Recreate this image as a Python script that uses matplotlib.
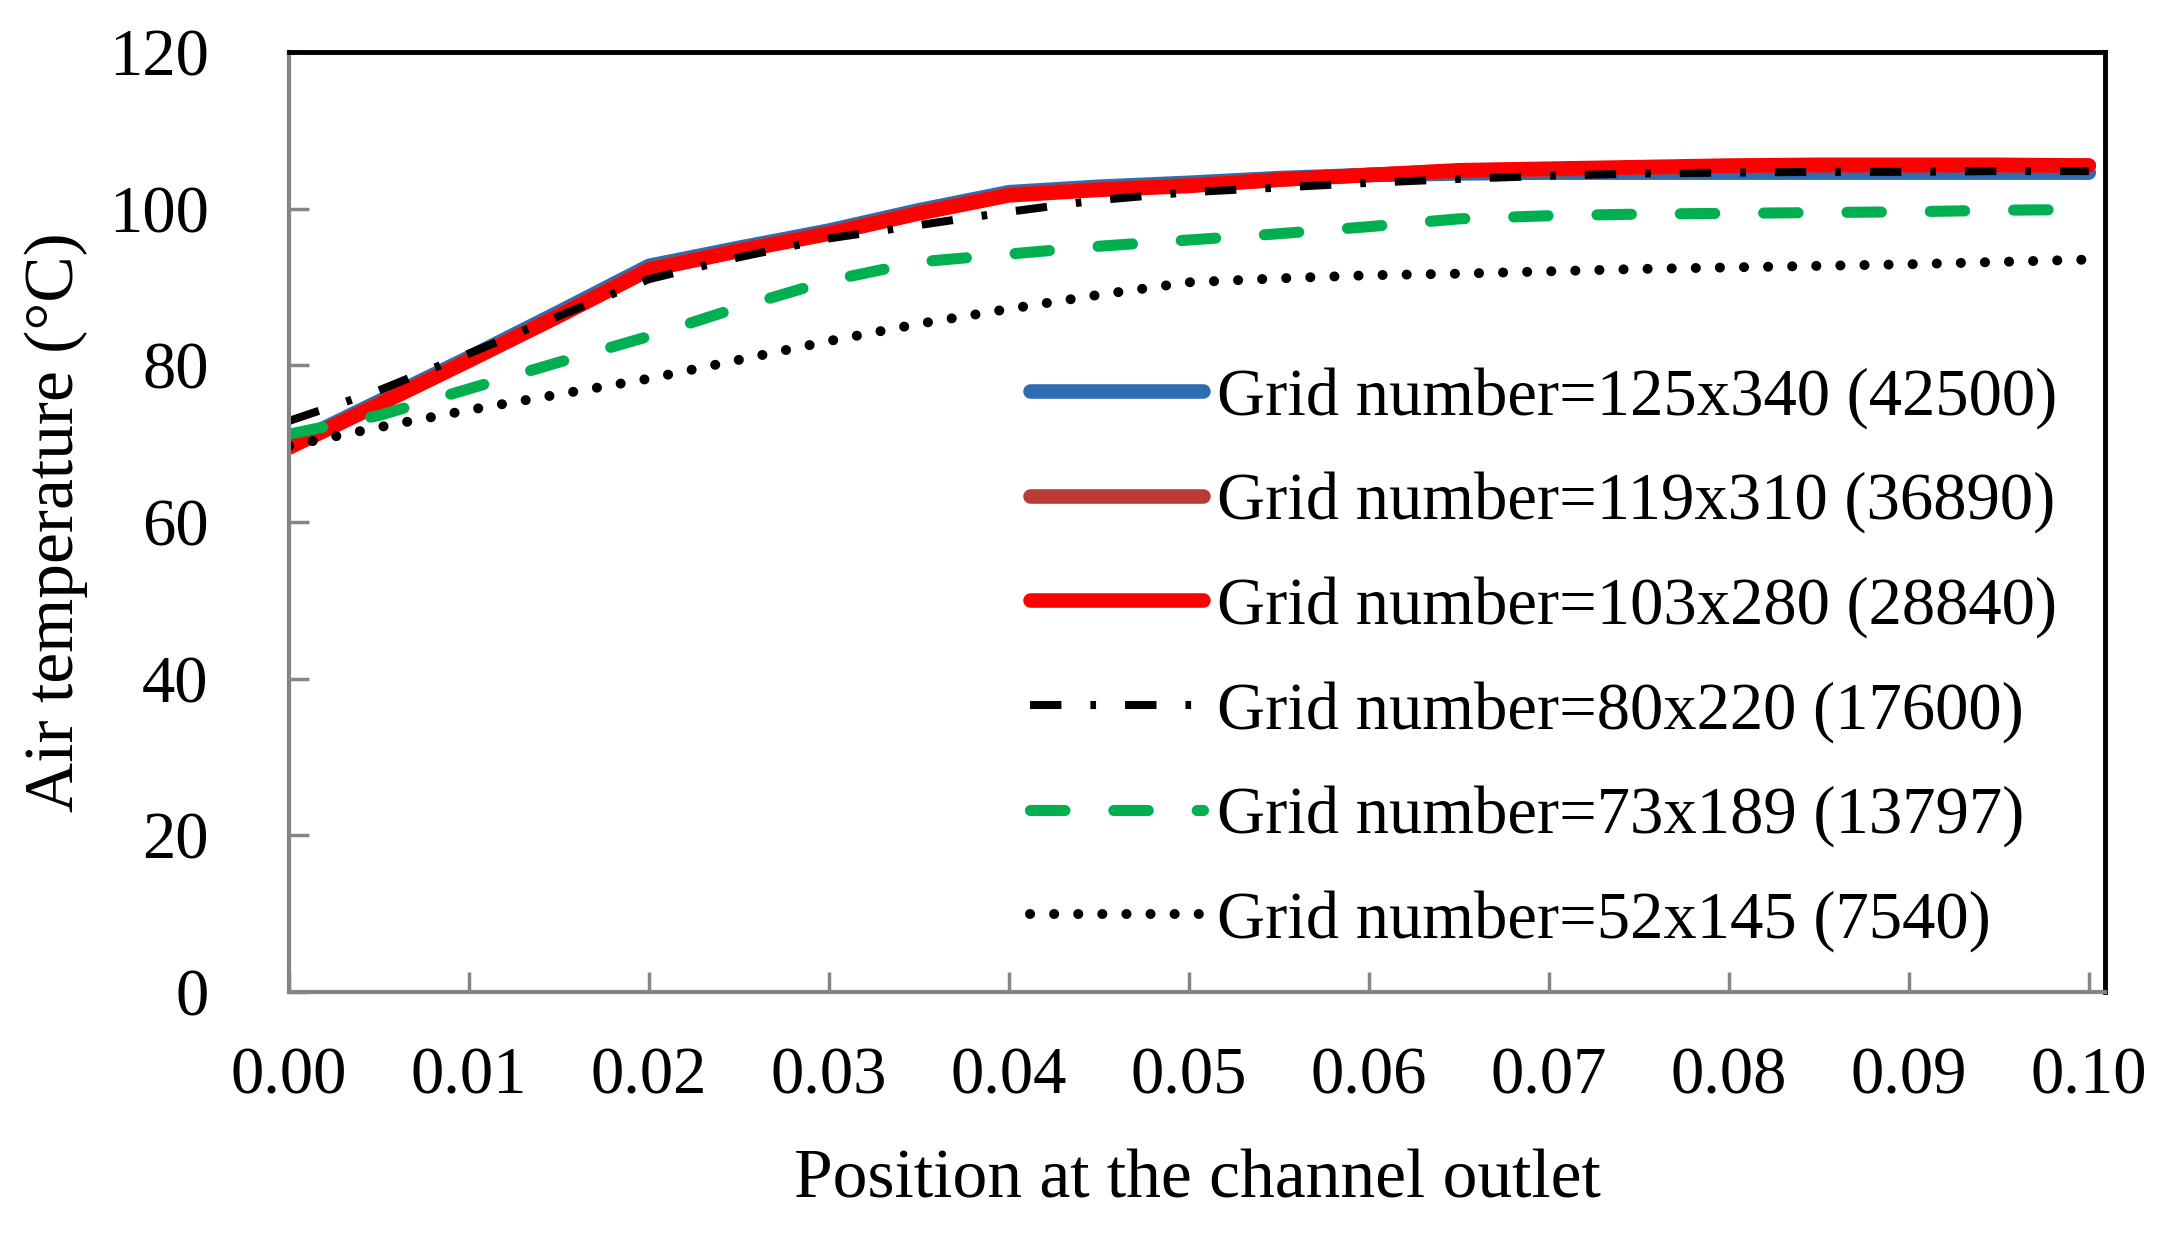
import matplotlib
matplotlib.use("Agg")
import matplotlib.pyplot as plt

plt.rcParams['font.family'] = ['Liberation Serif', 'DejaVu Serif']

# ---- data ----
position = [0.000, 0.005, 0.010, 0.015, 0.020, 0.025, 0.030, 0.035, 0.040, 0.045,
            0.050, 0.055, 0.060, 0.065, 0.070, 0.075, 0.080, 0.085, 0.090, 0.095, 0.100]

grid_125x340 = [69.8, 75.4, 81.0, 86.8, 92.7, 95.0, 97.2, 99.8, 102.1, 102.8,
                103.3, 103.9, 104.3, 104.5, 104.6, 104.6, 104.6, 104.6, 104.6, 104.6, 104.6]
grid_119x310 = [69.6, 75.1, 80.7, 86.4, 92.3, 94.7, 96.9, 99.5, 101.8, 102.5,
                103.0, 103.7, 104.3, 104.8, 105.0, 105.2, 105.4, 105.5, 105.5, 105.5, 105.5]
grid_103x280 = [69.5, 75.0, 80.6, 86.3, 92.2, 94.6, 96.8, 99.4, 101.7, 102.4,
                102.9, 103.7, 104.3, 104.9, 105.1, 105.3, 105.5, 105.6, 105.6, 105.6, 105.5]
grid_80x220 = [72.9, 76.8, 81.5, 86.3, 91.0, 93.8, 96.2, 97.9, 99.6, 101.1,
               102.1, 102.7, 103.3, 103.8, 104.2, 104.5, 104.6, 104.7, 104.7, 104.8, 104.8]
grid_73x189 = [71.2, 73.6, 77.0, 80.4, 83.7, 87.4, 90.8, 93.2, 94.2, 95.2,
               96.0, 96.8, 97.7, 98.7, 99.1, 99.3, 99.4, 99.5, 99.6, 99.8, 99.9]
grid_52x145 = [69.7, 72.1, 74.3, 76.3, 78.3, 80.7, 83.1, 85.3, 87.2, 89.0,
               90.6, 91.1, 91.5, 91.7, 92.0, 92.3, 92.5, 92.7, 92.9, 93.2, 93.5]

labels = ["Grid number=125x340 (42500)",
          "Grid number=119x310 (36890)",
          "Grid number=103x280 (28840)",
          "Grid number=80x220 (17600)",
          "Grid number=73x189 (13797)",
          "Grid number=52x145 (7540)"]

xticks = [0.00, 0.01, 0.02, 0.03, 0.04, 0.05, 0.06, 0.07, 0.08, 0.09, 0.10]
yticks = [0, 20, 40, 60, 80, 100, 120]

# ---- figure ----
fig = plt.figure(figsize=(21.67, 12.35), dpi=100)
ax = fig.add_axes([0.1334, 0.1968, 0.8380, 0.7611])

ax.plot(position, grid_125x340, color='#2E6DB4', lw=10.5, solid_capstyle='round', label=labels[0])
ax.plot(position, grid_119x310, color='#BA3A34', lw=10.5, solid_capstyle='round', label=labels[1])
ax.plot(position, grid_103x280, color='#FF0000', lw=10.5, solid_capstyle='round', label=labels[2])
ax.plot(position, grid_80x220, color='black', lw=5.8, dashes=(3.9, 3.6, 0.7, 3.6),
        dash_capstyle='butt', label=labels[3])
ax.plot(position, grid_73x189, color='#00B050', lw=8.0, dashes=(3.1, 4.4),
        dash_capstyle='round', label=labels[4])
ax.plot(position, grid_52x145, color='black', lw=7.2, dashes=(0.01, 2.4),
        dash_capstyle='round', label=labels[5])

ax.set_xlim(0, 0.1009)
ax.set_ylim(0, 120)
ax.set_xticks(xticks)
ax.set_xticklabels([f"{v:.2f}" for v in xticks])
ax.set_yticks(yticks)

for side in ['left', 'bottom']:
    ax.spines[side].set_color('#858585')
    ax.spines[side].set_linewidth(3.0)
for side in ['top', 'right']:
    ax.spines[side].set_color('black')
    ax.spines[side].set_linewidth(3.5)

ax.tick_params(axis='both', direction='in', length=14.5, width=2.5, color='#858585',
               labelsize=48)
ax.tick_params(axis='x', pad=39)
ax.tick_params(axis='y', pad=58)

ax.set_xlabel("Position at the channel outlet", fontsize=50)
ax.set_ylabel("Air temperature (°C)", fontsize=50)
ax.xaxis.set_label_coords(0.5, -0.167)
ax.yaxis.set_label_coords(-0.111, 0.5)

leg = ax.legend(loc='upper left', bbox_to_anchor=(0.408, 0.665), frameon=False,
                fontsize=48, handlelength=2.6, handletextpad=0.2,
                labelspacing=0.64, borderpad=0, borderaxespad=0)

fig.savefig("out.png", dpi=100)
